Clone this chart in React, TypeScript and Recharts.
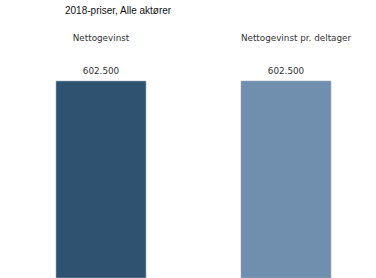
import { BarChart, Bar, XAxis, YAxis, Cell, LabelList } from 'recharts';

const title = '2018-priser, Alle aktører';
const categories = ['Nettogevinst', 'Nettogevinst pr. deltager'];
const values = [602500, 602500];
const colors = ['#2F5270', '#708EAD'];

const data = categories.map((name, i) => ({ name, value: values[i] }));

const fmt = (v: number) => String(v).replace(/\B(?=(\d{3})+(?!\d))/g, '.');

// second heading sits a bit right of its bar in the original
const headingShift = [0, 10];

const Heading = (props: any) => {
    const { x, width, index } = props;
    return (
        <text x={x + width / 2 + headingShift[index]} y={41} textAnchor="middle" fontSize={8.8} fill="#333" fontFamily="DejaVu Sans">
            {categories[index]}
        </text>
    );
};

const ValueLabel = (props: any) => {
    const { x, y, width, value } = props;
    return (
        <text x={x + width / 2} y={y - 7} textAnchor="middle" fontSize={8.8} fill="#333" fontFamily="DejaVu Sans">
            {fmt(value)}
        </text>
    );
};

export default function App() {
    return (
        <div style={{ position: 'absolute', left: 0, top: 0, width: 376, height: 278, overflow: 'hidden', background: '#fff' }}>
            <div style={{ position: 'absolute', left: 65, top: 5, fontFamily: 'Liberation Sans', fontSize: 10, color: '#111' }}>
                {title}
            </div>
            <BarChart width={378} height={278} data={data} margin={{ top: 81, right: 0, bottom: 0, left: 8 }} barSize={90}>
                <XAxis dataKey="name" hide />
                <YAxis hide domain={[0, 602500]} />
                <Bar dataKey="value" isAnimationActive={false} stroke="#9fb0c2" strokeWidth={0.6}>
                    {data.map((d, i) => (
                        <Cell key={d.name} fill={colors[i]} />
                    ))}
                    <LabelList dataKey="value" content={ValueLabel} />
                    <LabelList dataKey="name" content={Heading} />
                </Bar>
            </BarChart>
        </div>
    );
}
